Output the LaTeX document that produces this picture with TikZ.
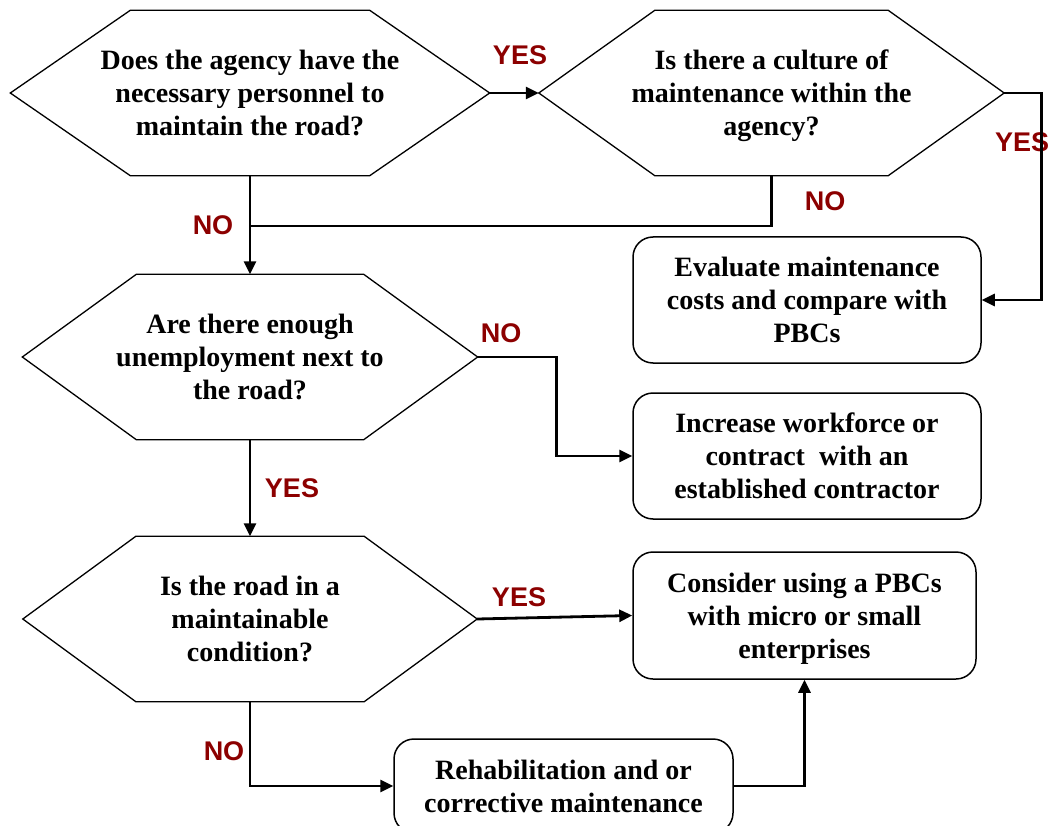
\documentclass[tikz,border=0pt]{standalone}
\usepackage{fontspec}
\setmainfont{Liberation Serif}
\newfontfamily\ansfont{Liberation Sans}
\usetikzlibrary{arrows.meta,positioning,calc}
\definecolor{ansred}{RGB}{140,0,0}
\tikzset{
  qtxt/.style = {align=center, inner sep=0pt, text depth=0pt,
                 font=\fontsize{28}{33}\selectfont\bfseries},
  hexq/.style = {qtxt, minimum height=165pt},
  act/.style  = {qtxt, draw, rounded corners=20pt, line width=1.5pt},
  ln/.style   = {line width=2.8pt},
  ar/.style   = {ln, -{Triangle[length=13pt,width=12pt]}},
  ans/.style  = {font=\ansfont\fontsize{27}{30}\selectfont\bfseries,
                 text=ansred, inner sep=0pt}
}
\begin{document}
\begin{tikzpicture}[x=1pt, y=-1pt]
\useasboundingbox (0,0) rectangle (1051,826);

\node[hexq, minimum width=479pt] (qstaff) at (250,93)
  {Does the agency have the\\ necessary personnel to\\ maintain the road?};
\node[hexq, minimum width=465pt] (qculture) at (771.5,93)
  {Is there a culture of\\ maintenance within the\\ agency?};
\node[hexq, minimum width=455pt] (qlabour) at (250,357)
  {Are there enough\\ unemployment next to\\ the road?};
\node[hexq, minimum width=454pt] (qroad) at (250,619)
  {Is the road in a\\ maintainable\\ condition?};
\foreach \q/\c in {qstaff/120,qculture/116,qlabour/114,qroad/113}
  \draw[line width=1.3pt] (\q.west) -- ([xshift=\c pt]\q.north west)
    -- ([xshift=-\c pt]\q.north east) -- (\q.east)
    -- ([xshift=-\c pt]\q.south east) -- ([xshift=\c pt]\q.south west) -- cycle;

\node[act, minimum width=348pt, minimum height=126pt] (evalcost) at (807,300)
  {Evaluate maintenance\\ costs and compare with\\ PBCs};
\node[act, minimum width=348pt, minimum height=126pt] (workforce) at (807,456)
  {Increase workforce or\\ contract\ \ with an\\ established contractor};
\node[act, minimum width=343pt, minimum height=127pt] (usepbc) at (804.5,615.5)
  {Consider using a PBCs\\ with micro or small\\ enterprises};
\node[act, minimum width=339pt, minimum height=94pt] (rehab) at (563.5,786)
  {Rehabilitation and or\\ corrective maintenance};

\node[ans] (y1) at (520,55) {YES};
\node[ans] (n1) at (825,201) {NO};
\node[ans] (n2) at (213,225) {NO};
\node[ans] (y2) at (1022,142) {YES};
\node[ans] (n3) at (501,333) {NO};
\node[ans] (y3) at (292,488) {YES};
\node[ans] (y4) at (519,597) {YES};
\node[ans] (n4) at (224,751) {NO};

\coordinate (merge) at (qstaff.south |- 0,226);
\draw[ar] (qstaff.east) -- (qculture.west);
\draw[ar] (qstaff.south) -- (qlabour.north);
\draw[ln] (qculture.south) |- (merge);
\draw[ar] (qculture.east) -- ++(37,0) |- (evalcost.east);
\draw[ar] (qlabour.east) -- ++(79,0) |- (workforce.west);
\draw[ar] (qlabour.south) -- (qroad.north);
\draw[ar] (qroad.east) -- (usepbc.west);
\draw[ar] (qroad.south) |- (rehab.west);
\draw[ar] (rehab.east) -| (usepbc.south);
\end{tikzpicture}
\end{document}
